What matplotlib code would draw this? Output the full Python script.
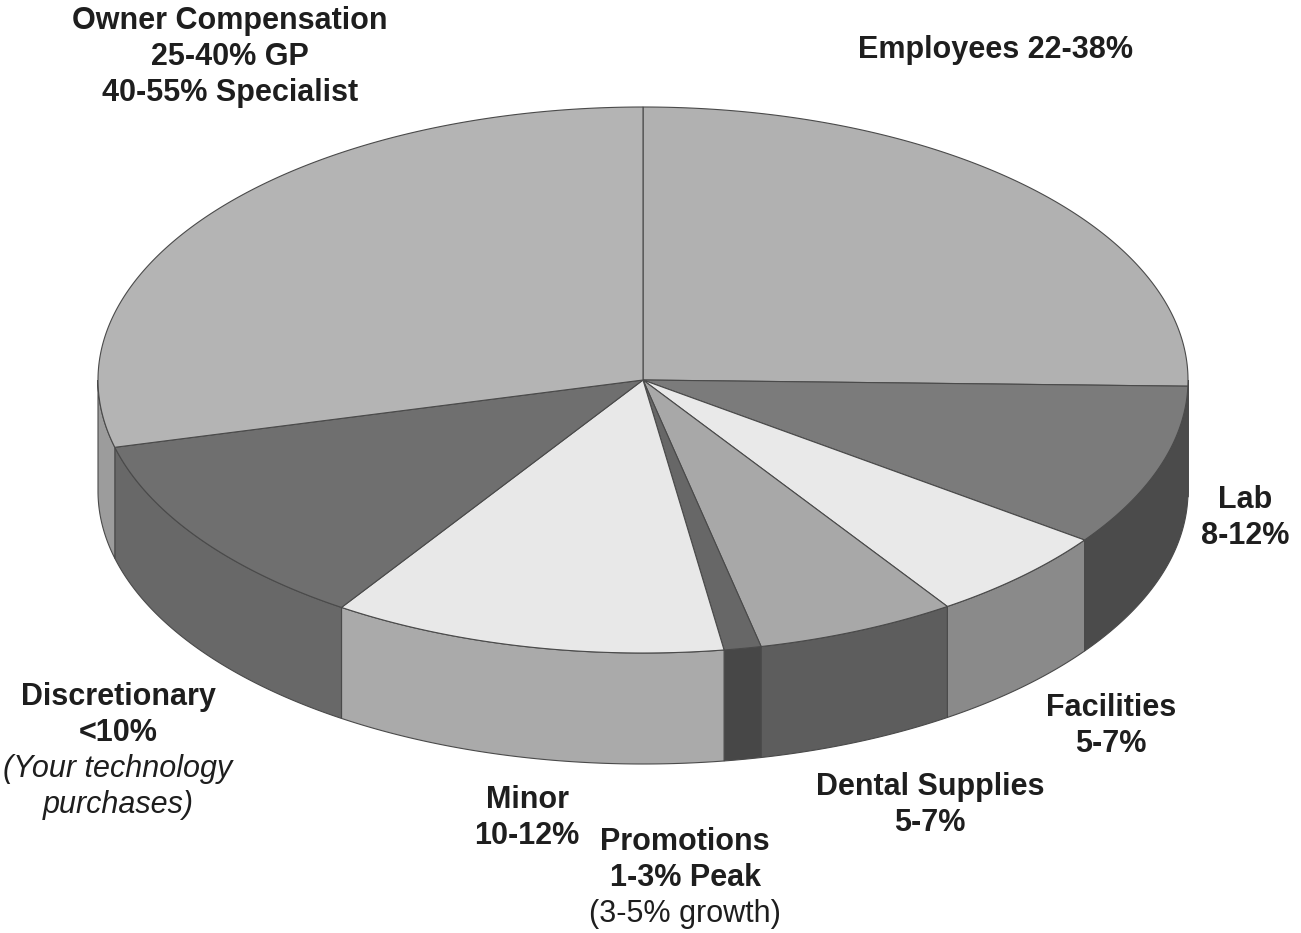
import numpy as np
import matplotlib
matplotlib.use("Agg")
import matplotlib.pyplot as plt
from matplotlib.patches import Polygon

# ---- data (clockwise from 12 o'clock) ----
categories = ["Employees", "Lab", "Facilities", "Dental Supplies",
              "Promotions", "Minor", "Discretionary", "Owner Compensation"]
shares = [25.35, 9.6, 5.6, 5.95, 1.1, 11.7, 11.7, 28.95]
top_colors = ["#b1b1b1", "#7b7b7b", "#e9e9e9", "#a8a8a8",
              "#676767", "#e8e8e8", "#6f6f6f", "#b4b4b4"]
side_colors = ["#8e8e8e", "#4b4b4b", "#8a8a8a", "#5d5d5d",
               "#474747", "#aaaaaa", "#686868", "#9c9c9c"]

label_lines = {
    "Owner Compensation": ["Owner Compensation", "25-40% GP", "40-55% Specialist"],
    "Employees": ["Employees 22-38%"],
    "Lab": ["Lab", "8-12%"],
    "Facilities": ["Facilities", "5-7%"],
    "Dental Supplies": ["Dental Supplies", "5-7%"],
    "Promotions": ["Promotions", "1-3% Peak", "(3-5% growth)"],
    "Minor": ["Minor", "10-12%"],
    "Discretionary": ["Discretionary", "<10%", "(Your technology", "purchases)"],
}

# ---- layout ----
W, H = 1301, 933
cx, cy, rx, ry, depth = 643, 380, 545, 273, 111
edge = "#4a4a4a"

fig = plt.figure(figsize=(W / 100, H / 100), dpi=100)
ax = fig.add_axes([0, 0, 1, 1])
ax.set_xlim(0, W)
ax.set_ylim(H, 0)
ax.axis("off")

fr = np.array(shares) / np.sum(shares)
bounds = 90 - 360 * np.concatenate([[0], np.cumsum(fr)])


def arc(t0, t1, n=200, dy=0.0):
    t = np.radians(np.linspace(t0, t1, n))
    return np.column_stack([cx + rx * np.cos(t), cy - ry * np.sin(t) + dy])


# sides (front half only, t in [-180, 0])
for i in range(len(shares)):
    a, b = bounds[i], bounds[i + 1]  # a > b
    hi, lo = min(a, 0.0), max(b, -180.0)
    if hi > lo:
        top = arc(hi, lo)
        bot = arc(lo, hi, dy=depth)
        poly = Polygon(np.vstack([top, bot]), closed=True, facecolor=side_colors[i],
                       edgecolor=edge, linewidth=0.8, zorder=1)
        ax.add_patch(poly)

# tops
for i in range(len(shares)):
    a, b = bounds[i], bounds[i + 1]
    pts = np.vstack([[cx, cy], arc(a, b)])
    poly = Polygon(pts, closed=True, facecolor=top_colors[i],
                   edgecolor=edge, linewidth=0.8, zorder=2)
    ax.add_patch(poly)

# ---- labels ----
fam = ["Liberation Sans", "DejaVu Sans"]
fs = 22
lh = 36
label_pos = {
    "Owner Compensation": (230, 21),
    "Employees": (995, 50),
    "Lab": (1245, 500),
    "Facilities": (1111, 708),
    "Dental Supplies": (930, 787),
    "Promotions": (685, 842),
    "Minor": (527, 800),
    "Discretionary": (118, 697),
}
for name, lines in label_lines.items():
    x0, y0 = label_pos[name]
    for k, line in enumerate(lines):
        weight, style = "bold", "normal"
        if line.startswith("(3-5%"):
            weight = "normal"
        if name == "Discretionary" and k >= 2:
            weight, style = "normal", "italic"
        ax.text(x0, y0 + k * lh, line, ha="center", va="center", fontsize=fs,
                fontweight=weight, fontstyle=style, family=fam, color="#1e1e1e")

fig.savefig("out.png", dpi=100, facecolor="white")
